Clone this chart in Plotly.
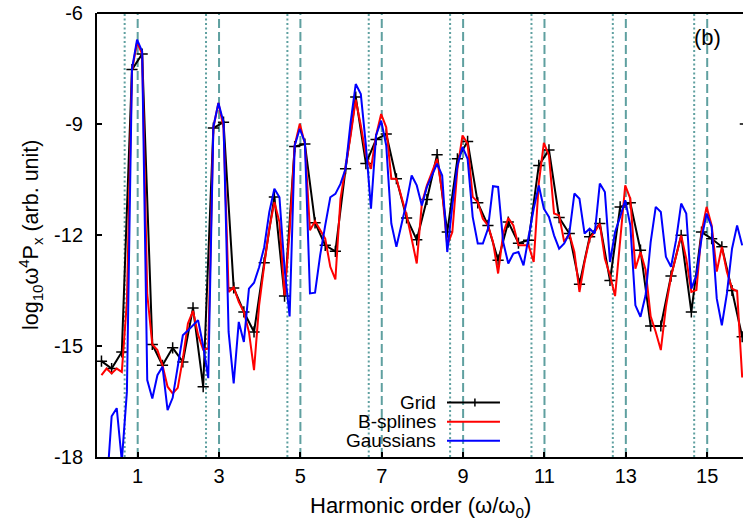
import plotly.graph_objects as go

# ---------------- data ----------------
grid_x = [0.11, 0.36, 0.61, 0.86, 1.11, 1.36, 1.61, 1.86, 2.11, 2.36, 2.61, 2.86,
          3.11, 3.36, 3.61, 3.86, 4.11, 4.36, 4.61, 4.86, 5.11, 5.36, 5.61, 5.86,
          6.11, 6.36, 6.61, 6.86, 7.11, 7.36, 7.61, 7.86, 8.11, 8.36, 8.61, 8.86,
          9.11, 9.36, 9.61, 9.86, 10.11, 10.36, 10.61, 10.86, 11.11, 11.36, 11.61, 11.86,
          12.11, 12.36, 12.61, 12.86, 13.11, 13.36, 13.61, 13.86, 14.11, 14.36, 14.61, 14.86,
          15.11, 15.36, 15.61, 15.86]
grid_y = [-15.41, -15.61, -15.16, -7.53, -7.11, -14.96, -15.52, -15.05, -15.43, -13.97, -16.10, -9.11,
          -8.95, -13.43, -14.08, -14.62, -12.75, -10.97, -13.65, -9.61, -9.54, -11.67, -12.28, -12.44,
          -10.21, -8.27, -10.07, -9.42, -9.27, -10.48, -11.54, -12.13, -11.04, -9.83, -11.92, -9.94,
          -9.47, -11.13, -11.74, -12.68, -11.65, -12.22, -12.14, -10.12, -9.70, -11.53, -11.96, -13.33,
          -12.05, -11.69, -13.23, -11.24, -11.13, -12.41, -14.46, -14.46, -13.11, -12.01, -14.08, -11.92,
          -12.10, -12.32, -13.50, -14.75]

fine_x = [0.11, 0.235, 0.36, 0.485, 0.61, 0.735, 0.86, 0.985,
          1.11, 1.235, 1.36, 1.485, 1.61, 1.735, 1.86, 1.985,
          2.11, 2.235, 2.36, 2.485, 2.61, 2.735, 2.86, 2.985,
          3.11, 3.235, 3.36, 3.485, 3.61, 3.735, 3.86, 3.985,
          4.11, 4.235, 4.36, 4.485, 4.61, 4.735, 4.86, 4.985,
          5.11, 5.235, 5.36, 5.485, 5.61, 5.735, 5.86, 5.985,
          6.11, 6.235, 6.36, 6.485, 6.61, 6.735, 6.86, 6.985,
          7.11, 7.235, 7.36, 7.485, 7.61, 7.735, 7.86, 7.985,
          8.11, 8.235, 8.36, 8.485, 8.61, 8.735, 8.86, 8.985,
          9.11, 9.235, 9.36, 9.485, 9.61, 9.735, 9.86, 9.985,
          10.11, 10.235, 10.36, 10.485, 10.61, 10.735, 10.86, 10.985,
          11.11, 11.235, 11.36, 11.485, 11.61, 11.735, 11.86, 11.985,
          12.11, 12.235, 12.36, 12.485, 12.61, 12.735, 12.86, 12.985,
          13.11, 13.235, 13.36, 13.485, 13.61, 13.735, 13.86, 13.985,
          14.11, 14.235, 14.36, 14.485, 14.61, 14.735, 14.86, 14.985,
          15.11, 15.235, 15.36, 15.485, 15.61, 15.735, 15.86]

bspline_y = [-15.79, -15.61, -15.74, -15.61, -15.70, -13.8, -7.56, -6.79,
             -7.11, -13.6, -14.96, -15.11, -15.52, -16.10, -16.28, -16.13,
             -15.35, -14.39, -14.05, -14.70, -15.10, -15.07, -9.10, -8.43,
             -9.09, -13.54, -13.41, -13.81, -14.08, -14.62, -15.65, -13.90,
             -12.82, -11.83, -11.11, -11.65, -13.63, -11.9, -9.58, -8.99,
             -9.53, -11.87, -11.63, -11.87, -12.10, -12.86, -13.20, -11.02,
             -10.21, -9.31, -8.34, -9.04, -9.85, -10.21, -9.31, -8.73,
             -9.09, -10.48, -10.48, -10.97, -11.47, -12.10, -12.77, -11.15,
             -10.66, -10.30, -9.94, -10.84, -12.28, -11.92, -10.21, -9.31,
             -9.53, -10.97, -11.11, -11.56, -11.74, -12.19, -13.04, -11.96,
             -11.54, -11.74, -12.28, -12.28, -12.28, -12.73, -10.6, -9.51,
             -9.85, -11.42, -11.47, -12.19, -11.96, -12.46, -13.54, -12.73,
             -12.10, -11.92, -11.69, -12.64, -13.09, -13.65, -12.1, -10.66,
             -11.02, -12.91, -12.46, -12.94, -14.2, -14.62, -15.11, -13.94,
             -13.13, -12.55, -12.01, -12.64, -13.54, -13.49, -11.92, -11.24,
             -11.74, -12.99, -12.32, -13.0, -13.45, -13.52, -15.85]

gauss_y = [-19.5, -18.9, -16.9, -16.68, -18.1, -16.24, -7.51, -6.72,
           -7.04, -15.92, -16.42, -15.79, -15.56, -16.73, -16.40, -15.5,
           -14.71, -14.58, -14.45, -14.30, -15.0, -15.87, -9.08, -8.43,
           -8.95, -14.62, -16.01, -14.35, -14.89, -13.45, -13.29, -12.87,
           -12.33, -11.38, -10.75, -10.98, -12.90, -14.20, -9.58, -9.13,
           -9.49, -13.58, -13.56, -12.55, -11.74, -10.98, -10.89, -10.62,
           -10.21, -8.95, -7.92, -8.19, -9.58, -11.29, -9.31, -8.91,
           -9.58, -11.69, -12.32, -11.74, -11.11, -10.39, -10.66, -11.20,
           -10.70, -10.39, -10.07, -10.39, -12.46, -11.20, -10.12, -9.62,
           -9.94, -11.51, -12.23, -12.23, -11.83, -10.68, -10.70, -12.19,
           -12.77, -12.50, -12.46, -12.82, -12.0, -11.29, -10.66, -11.29,
           -11.51, -12.01, -12.37, -12.23, -11.96, -10.88, -11.02, -11.96,
           -11.83, -11.96, -10.61, -10.84, -12.73, -11.92, -11.51, -11.06,
           -11.74, -13.90, -14.21, -13.63, -12.19, -11.24, -11.38, -12.59,
           -12.86, -12.14, -11.15, -11.42, -13.45, -13.09, -12.10, -11.42,
           -11.78, -13.72, -14.44, -13.58, -12.37, -11.74, -12.28]

odd_harmonics = [1, 3, 5, 7, 9, 11, 13, 15]
shifted_lines = [0.68, 2.68, 4.68, 6.68, 8.68, 10.68, 12.68, 14.68]
x_tick_vals = [1, 3, 5, 7, 9, 11, 13, 15]
x_tick_text = ["1", "3", "5", "7", "9", "11", "13", "15"]
y_tick_vals = [-18, -15, -12, -9, -6]
y_tick_text = ["-18", "-15", "-12", "-9", "-6"]
legend_names = ["Grid", "B-splines", "Gaussians"]
colors = ["#000000", "#ff0000", "#0000ff"]

X_RANGE = [0, 15.88]
Y_RANGE = [-18, -6]
TEAL = "#5fa0a0"
FONT = "Liberation Sans, Arial, sans-serif"

fig = go.Figure()

fig.add_trace(go.Scatter(x=grid_x, y=grid_y, mode="lines+markers", name=legend_names[0],
                         line=dict(color=colors[0], width=2),
                         marker=dict(symbol="cross-thin", size=8,
                                     line=dict(color=colors[0], width=1.5)),
                         showlegend=False))
fig.add_trace(go.Scatter(x=fine_x, y=bspline_y, mode="lines", name=legend_names[1],
                         line=dict(color=colors[1], width=2), showlegend=False))
fig.add_trace(go.Scatter(x=fine_x, y=gauss_y, mode="lines", name=legend_names[2],
                         line=dict(color=colors[2], width=2), showlegend=False))

shapes = []
for xv in odd_harmonics:
    shapes.append(dict(type="line", xref="x", yref="paper", x0=xv, x1=xv, y0=0, y1=1,
                       line=dict(color=TEAL, width=2, dash="9px,4px"), layer="below"))
for xv in shifted_lines:
    shapes.append(dict(type="line", xref="x", yref="paper", x0=xv, x1=xv, y0=0, y1=1,
                       line=dict(color=TEAL, width=2, dash="2px,2.5px"), layer="below"))
# top border
shapes.append(dict(type="line", xref="paper", yref="paper", x0=0, x1=1, y0=1, y1=1,
                   line=dict(color="black", width=2)))
# right-side tick fragment at -9
shapes.append(dict(type="line", xref="x", yref="y", x0=15.80, x1=15.88, y0=-9, y1=-9,
                   line=dict(color="black", width=1.5)))

# custom legend (text left of sample)
leg_rows = [0.1228, 0.0794, 0.0367]
annotations = []
for name, col, yy in zip(legend_names, colors, leg_rows):
    annotations.append(dict(x=0.528, y=yy, xref="paper", yref="paper", text=name,
                            showarrow=False, xanchor="right", yanchor="middle",
                            font=dict(family=FONT, size=19, color="black")))
    shapes.append(dict(type="line", xref="paper", yref="paper", x0=0.5418, x1=0.6238,
                       y0=yy, y1=yy, line=dict(color=col, width=2)))
shapes.append(dict(type="line", xref="paper", yref="paper", x0=0.585, x1=0.585,
                   y0=leg_rows[0] - 0.009, y1=leg_rows[0] + 0.009,
                   line=dict(color="black", width=1.5)))

annotations.append(dict(x=15.0, y=-6.66, xref="x", yref="y", text="(b)", showarrow=False,
                        xanchor="center", yanchor="middle",
                        font=dict(family=FONT, size=22, color="black")))
annotations.append(dict(x=-0.1037, y=0.5, xref="paper", yref="paper",
                        text="log<sub>10</sub>ω<sup>4</sup>P<sub>x</sub> (arb. unit)",
                        showarrow=False, textangle=-90, xanchor="center", yanchor="middle",
                        font=dict(family=FONT, size=21.5, color="black")))
annotations.append(dict(x=0.5, y=-0.112, xref="paper", yref="paper",
                        text="Harmonic order (ω/ω<sub>0</sub>)",
                        showarrow=False, xanchor="center", yanchor="middle",
                        font=dict(family=FONT, size=22, color="black")))

fig.update_layout(
    width=743, height=527,
    margin=dict(l=97, r=0, t=13, b=70, autoexpand=False),
    paper_bgcolor="white", plot_bgcolor="white",
    shapes=shapes, annotations=annotations,
    showlegend=False,
    font=dict(family=FONT, size=20, color="black"),
)
fig.update_xaxes(range=X_RANGE, tickvals=x_tick_vals, ticktext=x_tick_text,
                 ticks="inside", ticklen=5, tickwidth=1.5, tickcolor="black",
                 showline=True, linecolor="black", linewidth=2, showgrid=False,
                 zeroline=False, ticklabelstandoff=0,
                 tickfont=dict(family=FONT, size=20, color="black"))
fig.update_yaxes(range=Y_RANGE, tickvals=y_tick_vals, ticktext=y_tick_text,
                 ticks="inside", ticklen=5, tickwidth=1.5, tickcolor="black",
                 showline=True, linecolor="black", linewidth=2, showgrid=False,
                 zeroline=False, ticklabelstandoff=8,
                 tickfont=dict(family=FONT, size=20, color="black"))

fig.write_html("out.html", config={"displayModeBar": False},
               post_script="document.body.style.margin='0px';document.body.style.overflow='hidden';")
